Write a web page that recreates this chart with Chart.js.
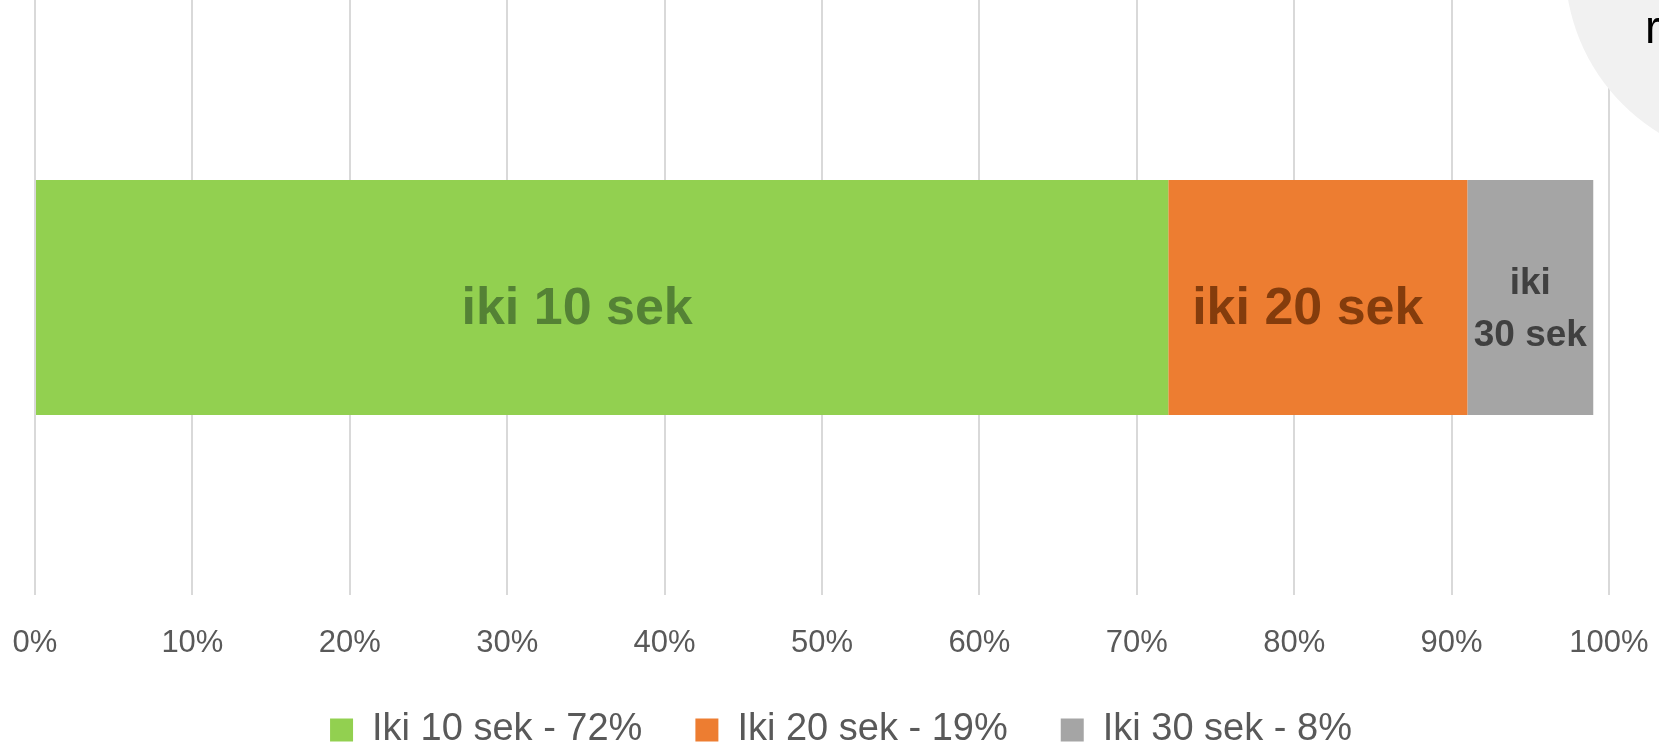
<!DOCTYPE html>
<html>
<head>
<meta charset="utf-8">
<script src="https://cdn.jsdelivr.net/npm/chart.js@4/dist/chart.umd.min.js"></script>
<style>
  html, body { margin: 0; padding: 0; background: #fff; }
  #wrap { width: 1659px; height: 747px; position: relative; }
</style>
</head>
<body>
<div id="wrap"><canvas id="barChart"></canvas></div>
<script>
// values
const categories = [''];
const seriesNames = ['Iki 10 sek - 72%', 'Iki 20 sek - 19%', 'Iki 30 sek - 8%'];
const seriesValues = [72, 19, 8];
const barLabels = [['iki 10 sek'], ['iki 20 sek'], ['iki', '30 sek']];
const xTicks = [0, 10, 20, 30, 40, 50, 60, 70, 80, 90, 100];

const barColors = ['#92d050', '#ed7d31', '#a5a5a5'];
const labelColors = ['#548235', '#843c0c', '#404040'];
const labelSizes = [52, 52, 37];
const labelShift = [-25, -10, 0]; // labels sit a bit left of centre in the original

Chart.defaults.font.family = "'Liberation Sans', Arial, sans-serif";

// draws the text inside each bar segment
const segmentLabels = {
  id: 'segmentLabels',
  afterDatasetsDraw(chart) {
    const ctx = chart.ctx;
    ctx.save();
    ctx.textAlign = 'center';
    ctx.textBaseline = 'middle';
    chart.data.datasets.forEach((ds, i) => {
      const el = chart.getDatasetMeta(i).data[0];
      if (!el) return;
      const cx = (el.x + el.base) / 2 + labelShift[i];
      const lines = barLabels[i];
      const size = labelSizes[i];
      const lh = size * 1.4;
      ctx.font = 'bold ' + size + "px 'Liberation Sans', Arial, sans-serif";
      ctx.fillStyle = labelColors[i];
      const top = el.y + 12 - (lines.length - 1) * lh / 2;
      lines.forEach((t, k) => ctx.fillText(t, cx, top + k * lh));
    });
    ctx.restore();
  }
};

// grey bubble cut off at the top right corner of the screenshot
const cornerBubble = {
  id: 'cornerBubble',
  afterDraw(chart) {
    const ctx = chart.ctx;
    ctx.save();
    ctx.fillStyle = '#f1f1f1';
    ctx.beginPath();
    ctx.arc(1762, -35, 197, 0, Math.PI * 2);
    ctx.fill();
    ctx.fillStyle = '#000';
    ctx.font = "46px 'Liberation Sans', Arial, sans-serif";
    ctx.textAlign = 'left';
    ctx.textBaseline = 'alphabetic';
    ctx.fillText('r', 1645, 43);
    ctx.restore();
  }
};

const datasets = seriesNames.map((name, i) => ({
  label: name,
  data: [seriesValues[i]],
  backgroundColor: barColors[i],
  borderWidth: 0,
  barPercentage: 0.395,
  categoryPercentage: 1
}));

const ctx = document.getElementById('barChart').getContext('2d');
const barChart = new Chart(ctx, {
  type: 'bar',
  data: { labels: categories, datasets: datasets },
  options: {
    indexAxis: 'y',
    responsive: true,
    maintainAspectRatio: false,
    animation: false,
    layout: { padding: { left: 23, right: 0, top: 0, bottom: 0 } },
    scales: {
      x: {
        stacked: true,
        min: 0,
        max: 100,
        afterBuildTicks: (scale) => { scale.ticks = xTicks.map(v => ({ value: v })); },
        afterFit: (scale) => { scale.height = 63; },
        grid: { color: '#d9d9d9', lineWidth: 2, drawTicks: true, tickLength: 30, tickColor: 'rgba(0,0,0,0)' },
        border: { display: false },
        ticks: {
          padding: 0,
          color: '#595959',
          font: { size: 31 },
          maxRotation: 0,
          callback: (v) => v + '%'
        }
      },
      y: {
        stacked: true,
        grid: { display: false },
        border: { display: false },
        ticks: { display: false },
        afterFit: (scale) => { scale.width = 12; }
      },
      y2: {
        type: 'linear',
        position: 'right',
        grid: { display: false },
        border: { display: false },
        ticks: { display: false },
        afterFit: (scale) => { scale.width = 50; }
      }
    },
    plugins: {
      tooltip: { enabled: false },
      legend: {
        position: 'bottom',
        maxHeight: 89,
        labels: {
          boxWidth: 23,
          boxHeight: 23,
          padding: 53,
          color: '#595959',
          font: { size: 38 }
        }
      }
    }
  },
  plugins: [segmentLabels, cornerBubble]
});
</script>
</body>
</html>
